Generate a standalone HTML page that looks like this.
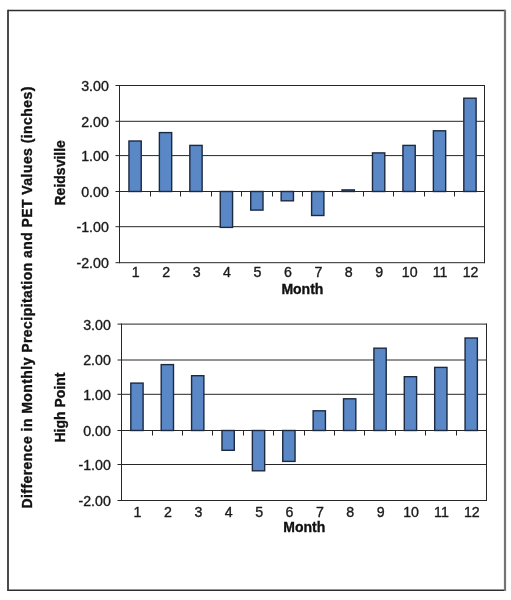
<!DOCTYPE html>
<html><head><meta charset="utf-8"><style>
html,body{margin:0;padding:0;background:#fff;}
body{width:511px;height:600px;overflow:hidden;}
svg{display:block;will-change:transform;}
.g{stroke:#262626;stroke-width:1;fill:none;}
.b{fill:#5a88c6;stroke:#1d2940;stroke-width:1.4;}
.t{font-family:"Liberation Sans",sans-serif;font-size:14.2px;fill:#1a1a1a;stroke:#1a1a1a;stroke-width:0.35px;}
.tb{font-family:"Liberation Sans",sans-serif;font-size:14px;font-weight:bold;fill:#111;stroke:#111;stroke-width:0.35px;}
</style></head><body>
<svg width="511" height="600" viewBox="0 0 511 600">
<rect x="0" y="0" width="511" height="600" fill="#fff"/>
<line x1="7.9" y1="10.5" x2="505" y2="10.5" stroke="#2e2e2e" stroke-width="1.5"/>
<line x1="7.9" y1="590.2" x2="505" y2="590.2" stroke="#2e2e2e" stroke-width="1.6"/>
<line x1="8" y1="9.8" x2="8" y2="591" stroke="#383838" stroke-width="1.8"/>
<line x1="505" y1="9.8" x2="505" y2="591" stroke="#747474" stroke-width="2.2"/>
<line x1="115.5" y1="85.5" x2="485.0" y2="85.5" class="g"/>
<line x1="115.5" y1="121.3" x2="485.0" y2="121.3" class="g"/>
<line x1="115.5" y1="155.6" x2="485.0" y2="155.6" class="g"/>
<line x1="115.5" y1="191.5" x2="485.0" y2="191.5" class="g"/>
<line x1="115.5" y1="226.7" x2="485.0" y2="226.7" class="g"/>
<line x1="115.5" y1="262.7" x2="485.0" y2="262.7" class="g"/>
<line x1="119.5" y1="85.0" x2="119.5" y2="263.2" class="g"/>
<line x1="484.5" y1="85.0" x2="484.5" y2="263.2" class="g"/>
<line x1="150.5" y1="191.5" x2="150.5" y2="196.5" class="g"/>
<line x1="180.5" y1="191.5" x2="180.5" y2="196.5" class="g"/>
<line x1="211.5" y1="191.5" x2="211.5" y2="196.5" class="g"/>
<line x1="241.5" y1="191.5" x2="241.5" y2="196.5" class="g"/>
<line x1="272.5" y1="191.5" x2="272.5" y2="196.5" class="g"/>
<line x1="302.5" y1="191.5" x2="302.5" y2="196.5" class="g"/>
<line x1="332.5" y1="191.5" x2="332.5" y2="196.5" class="g"/>
<line x1="363.5" y1="191.5" x2="363.5" y2="196.5" class="g"/>
<line x1="393.5" y1="191.5" x2="393.5" y2="196.5" class="g"/>
<line x1="424.5" y1="191.5" x2="424.5" y2="196.5" class="g"/>
<line x1="454.5" y1="191.5" x2="454.5" y2="196.5" class="g"/>
<rect x="128.94" y="141.00" width="12.3" height="50.50" class="b"/>
<rect x="159.38" y="132.60" width="12.3" height="58.90" class="b"/>
<rect x="189.83" y="145.40" width="12.3" height="46.10" class="b"/>
<rect x="220.27" y="191.50" width="12.3" height="35.90" class="b"/>
<rect x="250.71" y="191.50" width="12.3" height="18.60" class="b"/>
<rect x="281.16" y="191.50" width="12.3" height="9.30" class="b"/>
<rect x="311.60" y="191.50" width="12.3" height="24.00" class="b"/>
<rect x="342.04" y="189.90" width="12.3" height="1.60" class="b"/>
<rect x="372.48" y="152.90" width="12.3" height="38.60" class="b"/>
<rect x="402.93" y="145.40" width="12.3" height="46.10" class="b"/>
<rect x="433.37" y="130.80" width="12.3" height="60.70" class="b"/>
<rect x="463.81" y="98.20" width="12.3" height="93.30" class="b"/>
<text x="108.8" y="90.7" text-anchor="end" class="t">3.00</text>
<text x="108.8" y="126.5" text-anchor="end" class="t">2.00</text>
<text x="108.8" y="160.79999999999998" text-anchor="end" class="t">1.00</text>
<text x="108.8" y="196.7" text-anchor="end" class="t">0.00</text>
<text x="108.8" y="231.89999999999998" text-anchor="end" class="t">-1.00</text>
<text x="108.8" y="267.9" text-anchor="end" class="t">-2.00</text>
<text x="135.69" y="277.4" text-anchor="middle" class="t">1</text>
<text x="166.13" y="277.4" text-anchor="middle" class="t">2</text>
<text x="196.58" y="277.4" text-anchor="middle" class="t">3</text>
<text x="227.02" y="277.4" text-anchor="middle" class="t">4</text>
<text x="257.46" y="277.4" text-anchor="middle" class="t">5</text>
<text x="287.91" y="277.4" text-anchor="middle" class="t">6</text>
<text x="318.35" y="277.4" text-anchor="middle" class="t">7</text>
<text x="348.79" y="277.4" text-anchor="middle" class="t">8</text>
<text x="379.23" y="277.4" text-anchor="middle" class="t">9</text>
<text x="409.68" y="277.4" text-anchor="middle" class="t">10</text>
<text x="440.12" y="277.4" text-anchor="middle" class="t">11</text>
<text x="470.56" y="277.4" text-anchor="middle" class="t">12</text>
<text x="302.4" y="293.7" text-anchor="middle" class="tb">Month</text>
<line x1="117.5" y1="324.1" x2="487.0" y2="324.1" class="g"/>
<line x1="117.5" y1="360.0" x2="487.0" y2="360.0" class="g"/>
<line x1="117.5" y1="394.3" x2="487.0" y2="394.3" class="g"/>
<line x1="117.5" y1="430.5" x2="487.0" y2="430.5" class="g"/>
<line x1="117.5" y1="464.5" x2="487.0" y2="464.5" class="g"/>
<line x1="117.5" y1="500.5" x2="487.0" y2="500.5" class="g"/>
<line x1="121.5" y1="323.6" x2="121.5" y2="501.0" class="g"/>
<line x1="486.5" y1="323.6" x2="486.5" y2="501.0" class="g"/>
<line x1="152.5" y1="430.5" x2="152.5" y2="435.5" class="g"/>
<line x1="182.5" y1="430.5" x2="182.5" y2="435.5" class="g"/>
<line x1="212.5" y1="430.5" x2="212.5" y2="435.5" class="g"/>
<line x1="243.5" y1="430.5" x2="243.5" y2="435.5" class="g"/>
<line x1="273.5" y1="430.5" x2="273.5" y2="435.5" class="g"/>
<line x1="304.5" y1="430.5" x2="304.5" y2="435.5" class="g"/>
<line x1="334.5" y1="430.5" x2="334.5" y2="435.5" class="g"/>
<line x1="364.5" y1="430.5" x2="364.5" y2="435.5" class="g"/>
<line x1="395.5" y1="430.5" x2="395.5" y2="435.5" class="g"/>
<line x1="425.5" y1="430.5" x2="425.5" y2="435.5" class="g"/>
<line x1="456.5" y1="430.5" x2="456.5" y2="435.5" class="g"/>
<rect x="130.81" y="383.10" width="12.3" height="47.40" class="b"/>
<rect x="161.20" y="364.60" width="12.3" height="65.90" class="b"/>
<rect x="191.58" y="375.70" width="12.3" height="54.80" class="b"/>
<rect x="221.97" y="430.50" width="12.3" height="19.80" class="b"/>
<rect x="252.36" y="430.50" width="12.3" height="40.30" class="b"/>
<rect x="282.75" y="430.50" width="12.3" height="30.90" class="b"/>
<rect x="313.13" y="410.80" width="12.3" height="19.70" class="b"/>
<rect x="343.52" y="398.80" width="12.3" height="31.70" class="b"/>
<rect x="373.91" y="348.20" width="12.3" height="82.30" class="b"/>
<rect x="404.29" y="376.70" width="12.3" height="53.80" class="b"/>
<rect x="434.68" y="367.40" width="12.3" height="63.10" class="b"/>
<rect x="465.07" y="338.00" width="12.3" height="92.50" class="b"/>
<text x="110.8" y="329.5" text-anchor="end" class="t">3.00</text>
<text x="110.8" y="365.4" text-anchor="end" class="t">2.00</text>
<text x="110.8" y="399.7" text-anchor="end" class="t">1.00</text>
<text x="110.8" y="435.9" text-anchor="end" class="t">0.00</text>
<text x="110.8" y="469.9" text-anchor="end" class="t">-1.00</text>
<text x="110.8" y="505.9" text-anchor="end" class="t">-2.00</text>
<text x="137.56" y="516.5" text-anchor="middle" class="t">1</text>
<text x="167.95" y="516.5" text-anchor="middle" class="t">2</text>
<text x="198.33" y="516.5" text-anchor="middle" class="t">3</text>
<text x="228.72" y="516.5" text-anchor="middle" class="t">4</text>
<text x="259.11" y="516.5" text-anchor="middle" class="t">5</text>
<text x="289.50" y="516.5" text-anchor="middle" class="t">6</text>
<text x="319.88" y="516.5" text-anchor="middle" class="t">7</text>
<text x="350.27" y="516.5" text-anchor="middle" class="t">8</text>
<text x="380.66" y="516.5" text-anchor="middle" class="t">9</text>
<text x="411.04" y="516.5" text-anchor="middle" class="t">10</text>
<text x="441.43" y="516.5" text-anchor="middle" class="t">11</text>
<text x="471.82" y="516.5" text-anchor="middle" class="t">12</text>
<text x="304.3" y="531.8" text-anchor="middle" class="tb">Month</text>
<text transform="translate(64.5,172.8) rotate(-90)" text-anchor="middle" class="tb">Reidsville</text>
<text transform="translate(64.5,407.5) rotate(-90)" text-anchor="middle" class="tb">High Point</text>
<text transform="translate(31.5,297.6) rotate(-90)" text-anchor="middle" textLength="422" lengthAdjust="spacing" class="tb">Difference in Monthly Precipitation and PET Values (inches)</text>
</svg>
</body></html>
